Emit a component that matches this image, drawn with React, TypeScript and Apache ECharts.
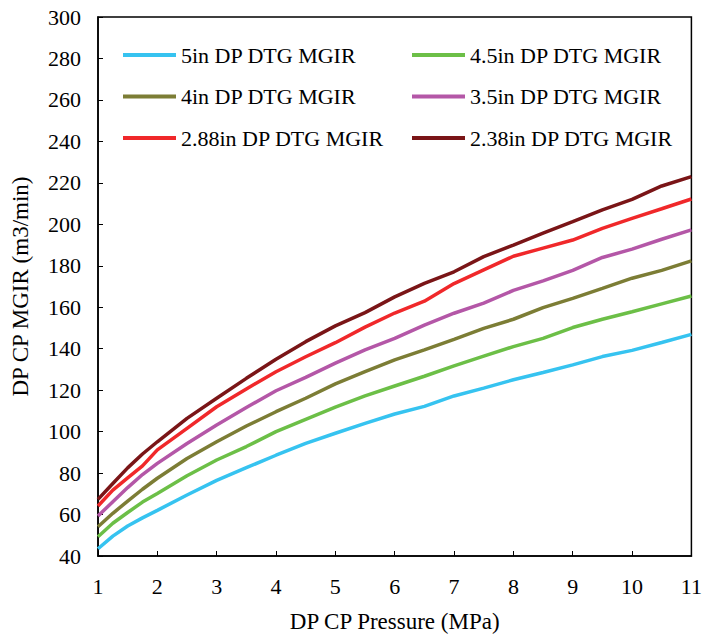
import React, { useEffect, useRef } from "react";
import * as echarts from "echarts";

const pressure = [1, 1.25, 1.5, 1.75, 2, 2.5, 3, 3.5, 4, 4.5, 5, 5.5, 6, 6.5, 7, 7.5, 8, 8.5, 9, 9.5, 10, 10.5, 11];

const seriesNames = [
  "5in DP DTG MGIR",
  "4.5in DP DTG MGIR",
  "4in DP DTG MGIR",
  "3.5in DP DTG MGIR",
  "2.88in DP DTG MGIR",
  "2.38in DP DTG MGIR",
];

const dp5in = [43.5, 49.6, 54.5, 58.4, 62, 69.4, 76.5, 82.6, 88.6, 94.3, 99.2, 104, 108.5, 112.2, 117.2, 121, 125, 128.5, 132.2, 136.2, 139.2, 143, 146.9];
const dp45in = [49.3, 55.8, 61, 66, 70.2, 78.7, 86.3, 92.8, 100, 105.9, 111.8, 117.2, 122, 126.7, 131.7, 136.4, 141, 145, 150.2, 154.2, 157.8, 161.6, 165.4];
const dp4in = [54.1, 60.6, 66.5, 72.2, 77.5, 87, 95.1, 102.7, 109.6, 116.1, 123, 128.9, 134.6, 139.4, 144.5, 149.8, 154.2, 159.8, 164.3, 169.1, 174, 177.8, 182.4];
const dp35in = [59.3, 66.2, 73, 79.3, 84.7, 94.3, 103.2, 111.6, 119.7, 126.2, 133, 139.4, 145, 151.4, 157.1, 162, 168.1, 172.7, 177.8, 184, 188, 192.8, 197.3];
const dp288in = [64.1, 71.8, 77.7, 83.5, 91.2, 101.6, 112, 120.6, 128.9, 136.1, 142.9, 150.4, 157.2, 162.9, 171.4, 178, 184.6, 188.5, 192.4, 198, 202.9, 207.5, 212.2];
const dp238in = [67.3, 75, 82.5, 89.2, 95.1, 106.4, 116.1, 125.7, 134.9, 143.4, 151, 157.4, 165, 171.5, 177.1, 184.4, 190, 195.7, 201.3, 207, 212, 218.5, 223];

const allValues = [dp5in, dp45in, dp4in, dp35in, dp288in, dp238in];
const colors = ["#36c3f0", "#6cbf47", "#7c7d35", "#b457a7", "#f0282a", "#7a1517"];

const FONT = "'Liberation Serif', 'Times New Roman', serif";

export default function App() {
  const ref = useRef<HTMLDivElement>(null);
  useEffect(() => {
    if (!ref.current) return;
    document.body.style.overflow = "hidden";
    const chart = echarts.init(ref.current, undefined, { renderer: "svg" });
    const legendPos = [
      { left: 123, top: 44 },
      { left: 412, top: 44 },
      { left: 123, top: 85.5 },
      { left: 412, top: 85.5 },
      { left: 123, top: 127 },
      { left: 412, top: 127 },
    ];
    chart.setOption({
      animation: false,
      backgroundColor: "#ffffff",
      grid: {
        left: 98,
        right: 13,
        top: 17,
        bottom: 84,
        show: true,
        borderColor: "#000",
        borderWidth: 1.5,
        backgroundColor: "transparent",
      },
      legend: seriesNames.map((n, i) => ({
        data: [n],
        left: legendPos[i].left,
        top: legendPos[i].top,
        padding: 0,
        icon: "rect",
        itemWidth: 53,
        itemHeight: 4,
        textStyle: { fontFamily: FONT, fontSize: 22, color: "#000" },
      })),
      xAxis: {
        type: "value",
        min: 1,
        max: 11,
        interval: 1,
        name: "DP CP Pressure (MPa)",
        nameLocation: "middle",
        nameGap: 54,
        nameTextStyle: { fontFamily: FONT, fontSize: 23, color: "#000" },
        axisLine: { show: true, lineStyle: { color: "#000", width: 1.5 } },
        axisTick: { show: true, inside: true, length: 5, lineStyle: { color: "#000", width: 1 } },
        axisLabel: { fontFamily: FONT, fontSize: 22, color: "#000", margin: 19 },
        splitLine: { show: false },
      },
      yAxis: {
        type: "value",
        min: 40,
        max: 300,
        interval: 20,
        name: "DP CP MGIR (m3/min)",
        nameLocation: "middle",
        nameGap: 66,
        nameTextStyle: { fontFamily: FONT, fontSize: 23, color: "#000" },
        axisLine: { show: true, lineStyle: { color: "#000", width: 1.5 } },
        axisTick: { show: true, inside: true, length: 5, lineStyle: { color: "#000", width: 1 } },
        axisLabel: { fontFamily: FONT, fontSize: 22, color: "#000", margin: 17 },
        splitLine: { show: false },
      },
      series: seriesNames.map((n, i) => ({
        name: n,
        type: "line",
        data: pressure.map((x, j) => [x, allValues[i][j]]),
        showSymbol: false,
        symbol: "none",
        color: colors[i],
        lineStyle: { color: colors[i], width: 3.5 },
        itemStyle: { color: colors[i] },
      })),
    });
    return () => chart.dispose();
  }, []);
  return (
    <div
      ref={ref}
      style={{ position: "absolute", left: 0, top: 0, width: 705, height: 640 }}
    />
  );
}
